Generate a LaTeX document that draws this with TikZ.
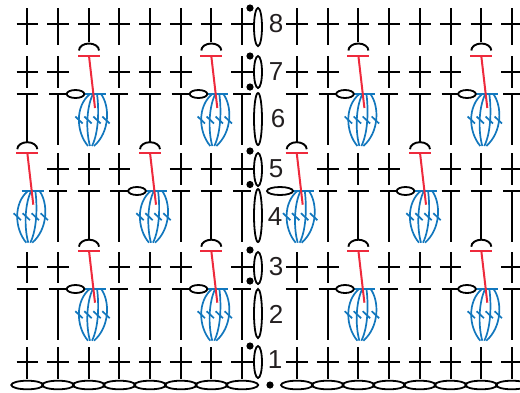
\documentclass[tikz,border=0pt]{standalone}
\usepackage{xcolor}
\usepackage{fontspec}
\setmainfont{Liberation Sans}
\usepackage{tikz}
\definecolor{puffblue}{HTML}{1277BD}
\definecolor{slipred}{HTML}{EE2A3C}
\definecolor{numgray}{HTML}{231F20}
% 列の位置
\newcommand{\colsA}{89,211.3,358.4,481.3}
\newcommand{\colsB}{27.3,150,296.7,420}
\newcommand{\colsC}{58,119.3,180.7,242,327.7,389,450.6,512}
% 玉編みの記号 (列, 赤線の高さ, 弧のずれ)
\newcommand{\puffstitch}[3]{
  \begin{scope}[shift={(#1,#2)}]
    \draw[stitch] (-10,{-#3}) arc[start angle=180,end angle=360,x radius=10,y radius=7];
    \begin{scope}[yshift=-38pt]
      \draw[puff] (-5.7,0) -- (17,0);
      \draw[puff] (1,0) .. controls (-14,12) and (-13,38) .. (-1,52);
      \draw[puff] (4,0) .. controls (-3,14) and (-3,38) .. (1,52);
      \draw[puff] (8,0) .. controls (10,14) and (10,38) .. (3,52);
      \draw[puff] (12,0) .. controls (21,12) and (21,38) .. (5,52);
      \foreach \t in {-10,-1,8,17}
        \draw[puff] ({\t-3.7},22.5) -- ({\t+3.7},29.5);
    \end{scope}
    \draw[slip] (-11,0) -- (11,0);
    \draw[slip] (0,0) -- (6,52);
  \end{scope}
}

\begin{document}
\begin{tikzpicture}[
    x=1pt,y=-1pt,
    stitch/.style={line width=1.9pt,black},
    chain/.style={line width=1.8pt,black,fill=white},
    basechain/.style={line width=1.8pt,black},
    puff/.style={line width=1.7pt,puffblue},
    slip/.style={line width=2pt,slipred},
    numlabel/.style={font=\fontsize{26}{26}\selectfont,text=numgray,inner sep=0pt},
    dot/.style={black,radius=3.6}
  ]
  \useasboundingbox (0,0) rectangle (520,392);
  % 細編みの行
  \foreach \y/\h/\b/\cols in {
      24/8/45/\colsC, 24/8/45/\colsB, 24/8/42/\colsA,
      72/56/88/\colsC, 72/56/88/\colsB,
      169/153/185/\colsC, 169/153/185/\colsA,
      267/252/283/\colsC, 267/252/283/\colsB,
      362/347/379/\colsC, 362/347/379/\colsB, 362/347/379/\colsA}{
    \edef\collist{\cols}
    \foreach \x in \collist {
      \draw[stitch] (\x,\h) -- (\x,\b);
      \draw[stitch] ({\x-10.8},\y) -- ({\x+10.8},\y);
    }
  }
  % 長編みの行
  \foreach \y/\b/\w/\cols in {
      94/145/9/\colsC, 94/143/10.8/\colsB,
      191/242/9/\colsC, 191/240/10.8/\colsA,
      289/340/9/\colsC, 289/340/10.8/\colsB}{
    \edef\collist{\cols}
    \foreach \x in \collist {
      \draw[stitch] (\x,\y) -- (\x,\b);
      \draw[stitch] ({\x-\w},\y) -- ({\x+\w},\y);
    }
  }
  % 玉編み
  \foreach \x in \colsA {
    \puffstitch{\x}{56}{5.5}
    \puffstitch{\x}{250.7}{4}
  }
  \foreach \x in \colsB {
    \puffstitch{\x}{152.7}{3.5}
  }
  % 横の鎖目
  \foreach \x/\y/\r in {
      75.5/94/8.8, 198.5/94/8.8, 345/94/8.8, 467/94/8.8,
      137/191/8.8, 280/191/13, 405.5/191/8.8,
      75.5/289/8.8, 198.5/289/8.8, 345/289/8.8, 467/289/8.8}{
    \draw[chain] (\x,\y) ellipse[x radius=\r,y radius=4];
  }
  % 作り目
  \foreach \x in {27.3,58,88.7,119.4,150.1,180.8,211.5,242.2,297,327.7,358.4,389.1,419.8,450.5,481.2,511.9}{
    \draw[basechain] (\x,385) ellipse[x radius=16,y radius=4.3];
  }
  % 立ち目の鎖
  \foreach \t/\b in {8/46,56/88,93/145,153/186,189/242,252/284,289/338,346/378}{
    \draw[chain] (258,{(\t+\b)/2}) ellipse[x radius=4,y radius={(\b-\t)/2}];
  }
  % 引き抜きの点
  \foreach \x/\y in {250/8,250/56,250/87,250/151,250/184.5,250/250,250/281,250/346,270/385}{
    \fill[dot] (\x,\y) circle;
  }
  % 段の番号
  \foreach \n/\x/\y in {8/276/24,7/276/72,6/278/119,5/276/169,4/275/217,3/276/267,2/276/314,1/275/360}{
    \node[numlabel] (num\n) at (\x,\y) {\n};
  }
\end{tikzpicture}
\end{document}
